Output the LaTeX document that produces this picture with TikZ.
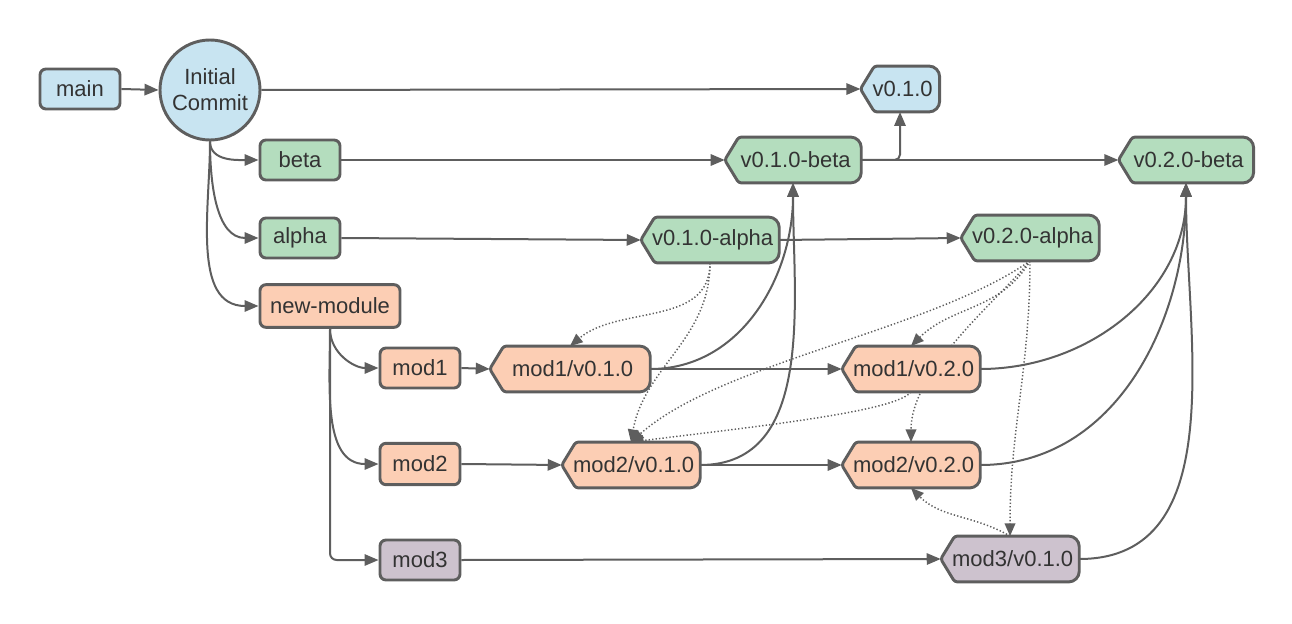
\documentclass[tikz,border=0pt]{standalone}
\usepackage{fontspec}
\setmainfont{Liberation Sans}
\usetikzlibrary{arrows.meta}
\definecolor{lc}{RGB}{94,94,94}
\definecolor{tc}{RGB}{51,51,51}
\definecolor{cblue}{RGB}{200,228,241}
\definecolor{cgreen}{RGB}{180,221,190}
\definecolor{csalmon}{RGB}{252,206,180}
\definecolor{cpurple}{RGB}{205,194,206}
\pgfdeclarelayer{edges}
\pgfdeclarelayer{shapes}
\pgfsetlayers{edges,shapes,main}
\tikzset{
  box/.style={draw=lc, line width=2.2pt, rounded corners=4.5pt, text=tc,
    minimum height=30pt, minimum width=60pt, inner sep=0pt},
  commit/.style={circle, draw=lc, line width=2.2pt, fill=cblue, minimum size=75pt,
    inner sep=0pt, align=center, text=tc},
  tagnode/.style={minimum width=103.5pt, minimum height=34pt, inner sep=0pt, text=tc,
    execute at begin node=\hspace*{4pt}},
  tagline/.style={draw=lc, line width=2.2pt},
  con/.style={draw=lc, line width=1.5pt, -{Triangle[length=10.5pt,width=8.5pt]}},
  dotcon/.style={draw=lc, line width=1.1pt, dash pattern=on 1pt off 1.6pt,
    -{Triangle[length=9.5pt,width=8pt]}},
}
\newcommand\tagshp[2]{%
  \begin{pgfonlayer}{shapes}
    \draw[tagline, fill=#2] (#1.west) [rounded corners=2pt]
      -- ([xshift=10.5pt]#1.north west) [rounded corners=8pt]
      -- (#1.north east) -- (#1.south east) [rounded corners=2pt]
      -- ([xshift=10.5pt]#1.south west) -- cycle;
  \end{pgfonlayer}}
\begin{document}
\begin{tikzpicture}[x=0.75pt, y=0.75pt, font=\fontsize{16.5}{19.5}\selectfont]
\useasboundingbox (0,0) rectangle (1292,-624);
% nodes
\node[box, fill=cblue] (main) at (80,-89) {main};
\node[commit] (ic) at (210,-90) {Initial\\Commit};
\node[tagnode, minimum width=59pt] (v010) at (900,-89) {v0.1.0};
\node[box, fill=cgreen] (beta) at (300,-160) {beta};
\node[tagnode, minimum width=102pt] (v010b) at (793,-160) {v0.1.0-beta};
\node[tagnode, minimum width=101pt] (v020b) at (1186,-160) {v0.2.0-beta};
\node[box, fill=cgreen] (alpha) at (300,-238) {alpha};
\node[tagnode] (v010a) at (710,-240) {v0.1.0-alpha};
\node[tagnode] (v020a) at (1030,-238) {v0.2.0-alpha};
\node[box, fill=csalmon, minimum width=105pt, minimum height=32pt] (nm) at (330,-306) {new-module};
\node[box, fill=csalmon] (m1) at (420,-368) {mod1};
\node[tagnode, minimum width=120pt] (m1v1) at (570,-369) {mod1/v0.1.0};
\node[tagnode] (m1v2) at (911,-369) {mod1/v0.2.0};
\node[box, fill=csalmon, minimum height=31pt] (m2) at (420,-464) {mod2};
\node[tagnode] (m2v1) at (631,-465) {mod2/v0.1.0};
\node[tagnode] (m2v2) at (911,-465) {mod2/v0.2.0};
\node[box, fill=cpurple] (m3) at (420,-560) {mod3};
\node[tagnode] (m3v1) at (1010,-559) {mod3/v0.1.0};
% tag outlines
\tagshp{v010}{cblue}
\tagshp{v010b}{cgreen}
\tagshp{v020b}{cgreen}
\tagshp{v010a}{cgreen}
\tagshp{v020a}{cgreen}
\tagshp{m1v1}{csalmon}
\tagshp{m1v2}{csalmon}
\tagshp{m2v1}{csalmon}
\tagshp{m2v2}{csalmon}
\tagshp{m3v1}{cpurple}
% connectors
\begin{pgfonlayer}{edges}
\draw[con] (main.east) -- (ic.west);
\draw[con] (ic.east) -- (v010.west);
\draw[con] (ic.south) to[out=-90, in=180] (beta.west);
\draw[con] (ic.south) to[out=-90, in=180] (alpha.west);
\draw[con] (ic.south) to[out=-90, in=180] (nm.west);
\draw[con] (beta.east) -- (v010b.west);
\draw[con] (v010b.east) -- (v020b.west);
\draw[con, rounded corners=4pt] (v010b.east) -| (v010.south);
\draw[con] (alpha.east) -- (v010a.west);
\draw[con] (v010a.east) -- (v020a.west);
\draw[con] (nm.south) to[out=-90, in=180] (m1.west);
\draw[con] (nm.south) to[out=-90, in=180] (m2.west);
\draw[con, rounded corners=5pt] (nm.south) |- (m3.west);
\draw[con] (m1.east) -- (m1v1.west);
\draw[con] (m1v1.east) -- (m1v2.west);
\draw[con] (m1v1.east) to[out=0, in=-90] (v010b.south);
\draw[con] (m2.east) -- (m2v1.west);
\draw[con] (m2v1.east) -- (m2v2.west);
\draw[con] (m2v1.east) to[out=0, in=-90] (v010b.south);
\draw[con] (m1v2.east) to[out=0, in=-90] (v020b.south);
\draw[con] (m2v2.east) to[out=0, in=-90] (v020b.south);
\draw[con] (m3.east) -- (m3v1.west);
\draw[con] (m3v1.east) to[out=0, in=-90] (v020b.south);
% dotted
\draw[dotcon] (v010a.south) to[out=-90, in=40] (m1v1.north);
\draw[dotcon] (v010a.south) to[out=-90, in=80] (m2v1.north);
\draw[dotcon] (v020a.south) to[out=-120, in=45] (m1v2.north);
\draw[dotcon] (v020a.south) .. controls +(-31,-38) and +(0,72) .. (m2v2.north);
\draw[dotcon] (v020a.south) .. controls +(-100,-70) and +(90,80) .. (m2v1.north);
\draw[dotcon] (m1v2.south) .. controls +(-15,-20) and +(120,15) .. (m2v1.north);
\draw[dotcon] (v020a.south) to[out=-90, in=90] (m3v1.north);
\draw[dotcon] (m3v1.north) to[out=150, in=-45] (m2v2.south);
\end{pgfonlayer}
\end{tikzpicture}
\end{document}
